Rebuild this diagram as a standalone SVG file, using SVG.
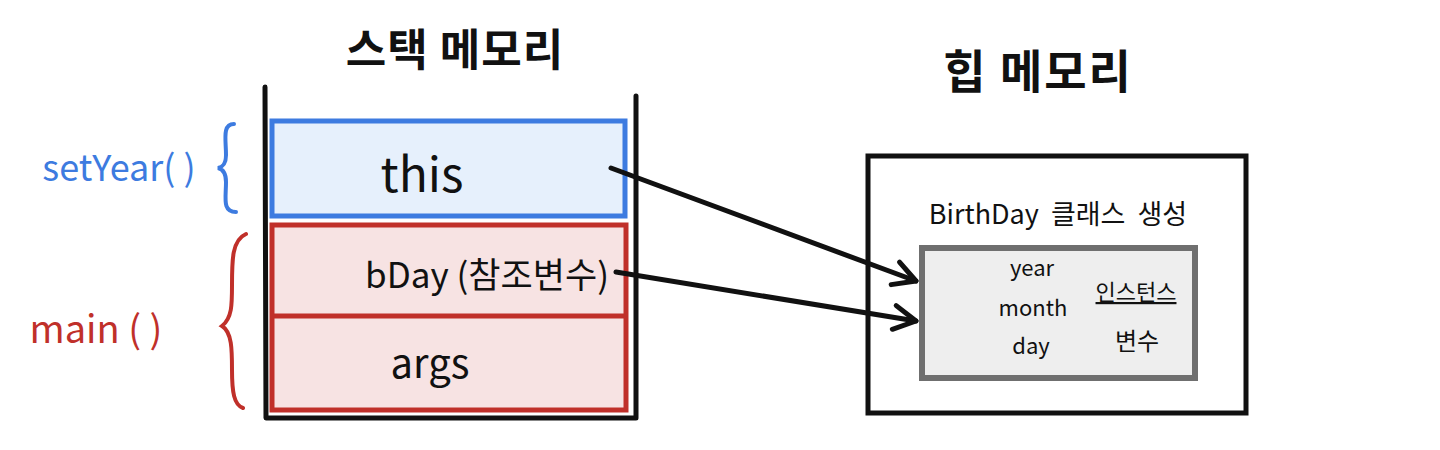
<svg xmlns="http://www.w3.org/2000/svg" width="1440" height="450" viewBox="0 0 1440 450">
<defs>
<style>
.t{font-family:"Noto Sans CJK KR","Noto Sans",sans-serif;fill:#111;text-anchor:middle}
.ln{fill:none;stroke:#111;stroke-width:5;stroke-linecap:round;stroke-linejoin:round}
</style>
<marker id="ah" viewBox="0 0 30 30" refX="26" refY="15" markerWidth="30" markerHeight="30" markerUnits="userSpaceOnUse" orient="auto">
<polyline points="4,3 26,15 4,27" fill="none" stroke="#111" stroke-width="5" stroke-linecap="round" stroke-linejoin="round"/>
</marker>
</defs>
<rect width="1440" height="450" fill="#fff"/>
<g id="title-stack"><text class="t" x="455" y="66" font-size="44" font-weight="bold" letter-spacing="1">스택 메모리</text></g>
<g id="title-heap"><text class="t" x="1038" y="88" font-size="46" font-weight="bold" letter-spacing="2">힙 메모리</text></g>
<g id="stack">
<path class="ln" d="M265,87 L266,418 L636,418 L636,96"/>
</g>
<g id="frame-setYear">
<rect x="272" y="121" width="353" height="95" fill="#e6f0fc" stroke="#3d7be0" stroke-width="5"/>
<text class="t" x="422" y="192" font-size="48">this</text>
</g>
<g id="frame-main">
<rect x="272" y="225" width="354" height="185" fill="#f7e3e3" stroke="#c0302a" stroke-width="5"/>
<line x1="272" y1="316" x2="626" y2="316" stroke="#c0302a" stroke-width="5"/>
<text class="t" x="487" y="288" font-size="35">bDay (참조변수)</text>
<text class="t" x="430" y="378" font-size="40">args</text>
</g>
<g id="label-setYear">
<text x="119" y="181" font-family="Noto Sans CJK KR,Noto Sans,sans-serif" font-size="36" fill="#3d7be0" text-anchor="middle">setYear( )</text>
<path d="M234,124 C222,124 226,140 226,155 C226,165 222,167 218,168 C222,169 226,172 226,182 C226,198 222,212 236,212" fill="none" stroke="#3d7be0" stroke-width="4" stroke-linecap="round"/>
</g>
<g id="label-main">
<text x="96" y="343" font-family="Noto Sans CJK KR,Noto Sans,sans-serif" font-size="38" fill="#c0302a" text-anchor="middle">main ( )</text>
<path d="M246,234 C232,240 232,260 232,285 C232,305 232,318 222,326 C232,332 232,350 232,370 C232,392 234,405 243,408" fill="none" stroke="#c0302a" stroke-width="4" stroke-linecap="round"/>
</g>
<g id="heap">
<rect x="868" y="156" width="378" height="257" fill="#fff" stroke="#111" stroke-width="5"/>
<text class="t" x="1058" y="224" font-size="27" word-spacing="6">BirthDay  클래스 생성</text>
</g>
<g id="instance">
<rect x="922" y="248" width="273" height="130" fill="#eeeeee" stroke="#6f6f6f" stroke-width="6"/>
<text class="t" x="1032" y="276" font-size="22">year</text>
<text class="t" x="1033" y="316" font-size="22">month</text>
<text class="t" x="1031" y="354" font-size="22">day</text>
<text class="t" x="1136" y="300" font-size="22" text-decoration="underline">인스턴스</text>
<text class="t" x="1137" y="350" font-size="24">변수</text>
</g>
<g id="connectors">
<line class="ln" x1="611" y1="168" x2="916" y2="281" marker-end="url(#ah)"/>
<line class="ln" x1="616" y1="272" x2="916" y2="321" marker-end="url(#ah)"/>
</g>
</svg>
